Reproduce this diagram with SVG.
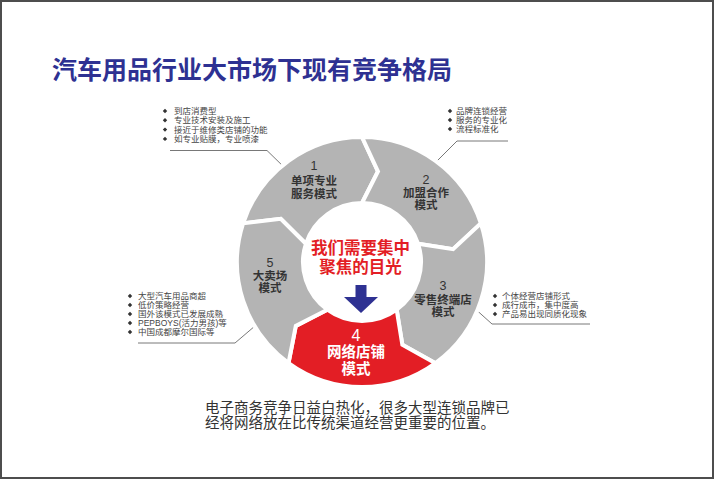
<svg xmlns="http://www.w3.org/2000/svg" xmlns:xlink="http://www.w3.org/1999/xlink" width="715" height="480" viewBox="0 0 715 480">
<defs>
<style>
.t{font-family:"Liberation Sans","Noto Sans CJK SC",sans-serif}
.title{font-size:25px;font-weight:bold;fill:#2e3192}
.seg{fill:#b4b4b4;stroke:#fff;stroke-width:4;stroke-linejoin:miter}
.red{fill:#e31e25;stroke:#fff;stroke-width:4;stroke-linejoin:miter}
.lbl{font-size:11.5px;font-weight:bold;fill:#333;text-anchor:middle}
.num{font-size:12.5px;fill:#333;text-anchor:middle}
.wl{font-size:14.5px;font-weight:bold;fill:#fff;text-anchor:middle}
.wn{font-size:16px;fill:#fff;text-anchor:middle}
.ctr{font-size:16.5px;font-weight:bold;fill:#e31e25;text-anchor:middle}
.bl{font-size:8.5px;fill:#444}
.body{font-size:14.5px;fill:#333}
.lead{fill:none;stroke:#555;stroke-width:0.8}
</style>
<path id="b" d="M0,-2.2 L2.2,0 L0,2.2 L-2.2,0Z" fill="#333"/>
</defs>
<rect x="1" y="1" width="712" height="477" fill="#fff" stroke="#4d4d4d" stroke-width="2"/>
<text class="t title" x="52" y="78.5">汽车用品行业大市场下现有竞争格局</text>

<g id="connectors">
<polyline class="lead" points="170,150.5 267,150.5 288,171"/>
<polyline class="lead" points="508,141 457,141 432,166"/>
<polyline class="lead" points="138,343 235,343 262,320"/>
<polyline class="lead" points="590,324 492,324 472,306"/>
</g>

<g id="seg1">
<path class="seg" d="M243.11,223.37 A125,125 0 0 1 362,137 L377.97,171.40 L362,203 A59,59 0 0 0 305.89,243.77 L280.77,218.81 Z"/>
<text class="t num" x="314" y="170">1</text>
<text class="t lbl" x="314" y="184.5">单项专业</text>
<text class="t lbl" x="314" y="197.5">服务模式</text>
</g>
<g id="seg2">
<path class="seg" d="M362,137 A125,125 0 0 1 480.89,223.37 L453.11,249.19 L418.11,243.77 A59,59 0 0 0 362,203 L377.97,171.40 Z"/>
<text class="t num" x="426" y="184">2</text>
<text class="t lbl" x="426" y="196.5">加盟合作</text>
<text class="t lbl" x="426" y="208.5">模式</text>
</g>
<g id="seg3">
<path class="seg" d="M480.89,223.37 A125,125 0 0 1 435.48,363.13 L402.33,344.69 L396.68,309.73 A59,59 0 0 0 418.11,243.77 L453.11,249.19 Z"/>
<text class="t num" x="443" y="289.5">3</text>
<text class="t lbl" x="443" y="303.5">零售终端店</text>
<text class="t lbl" x="443" y="316">模式</text>
</g>
<g id="seg4">
<path class="red" d="M435.48,363.13 A125,125 0 0 1 288.52,363.13 L295.82,325.91 L327.32,309.73 A59,59 0 0 0 396.68,309.73 L402.33,344.69 Z"/>
<text class="t wn" x="356" y="341">4</text>
<text class="t wl" x="356" y="357">网络店铺</text>
<text class="t wl" x="356" y="374">模式</text>
</g>
<g id="seg5">
<path class="seg" d="M288.52,363.13 A125,125 0 0 1 243.11,223.37 L280.77,218.81 L305.89,243.77 A59,59 0 0 0 327.32,309.73 L295.82,325.91 Z"/>
<text class="t num" x="270" y="266.5">5</text>
<text class="t lbl" x="270" y="279.5">大卖场</text>
<text class="t lbl" x="270" y="292">模式</text>
</g>

<g id="center">
<text class="t ctr" x="360.5" y="254">我们需要集中</text>
<text class="t ctr" x="360.5" y="273">聚焦的目光</text>
<path d="M355.5,285 L366.5,285 L366.5,297 L378,297 L361,313 L344,297 L355.5,297 Z" fill="#2e3192"/>
</g>

<g id="list1">
<use xlink:href="#b" x="165" y="111"/><text class="t bl" x="174" y="114">到店消费型</text>
<use xlink:href="#b" x="165" y="120.3"/><text class="t bl" x="174" y="123.3">专业技术安装及施工</text>
<use xlink:href="#b" x="165" y="129.6"/><text class="t bl" x="174" y="132.6">接近于维修类店铺的功能</text>
<use xlink:href="#b" x="165" y="138.9"/><text class="t bl" x="174" y="141.9">如专业贴膜，专业喷漆</text>
</g>
<g id="list2">
<use xlink:href="#b" x="450" y="111"/><text class="t bl" x="456" y="114">品牌连锁经营</text>
<use xlink:href="#b" x="450" y="120"/><text class="t bl" x="456" y="123">服务的专业化</text>
<use xlink:href="#b" x="450" y="129"/><text class="t bl" x="456" y="132">流程标准化</text>
</g>
<g id="list3">
<use xlink:href="#b" x="130" y="296"/><text class="t bl" x="138" y="299">大型汽车用品商超</text>
<use xlink:href="#b" x="130" y="305"/><text class="t bl" x="138" y="308">低价策略经营</text>
<use xlink:href="#b" x="130" y="314"/><text class="t bl" x="138" y="317">国外该模式已发展成熟</text>
<use xlink:href="#b" x="130" y="323"/><text class="t bl" x="138" y="326">PEPBOYS(活力男孩)等</text>
<use xlink:href="#b" x="130" y="332"/><text class="t bl" x="138" y="335">中国成都摩尔国际等</text>
</g>
<g id="list4">
<use xlink:href="#b" x="495" y="296"/><text class="t bl" x="502" y="299">个体经营店铺形式</text>
<use xlink:href="#b" x="495" y="305"/><text class="t bl" x="502" y="308">成行成市，集中度高</text>
<use xlink:href="#b" x="495" y="314"/><text class="t bl" x="502" y="317">产品易出现同质化现象</text>
</g>

<g id="note">
<text class="t body" x="205" y="412.5">电子商务竞争日益白热化，很多大型连锁品牌已</text>
<text class="t body" x="205" y="427.5">经将网络放在比传统渠道经营更重要的位置。</text>
</g>
</svg>
